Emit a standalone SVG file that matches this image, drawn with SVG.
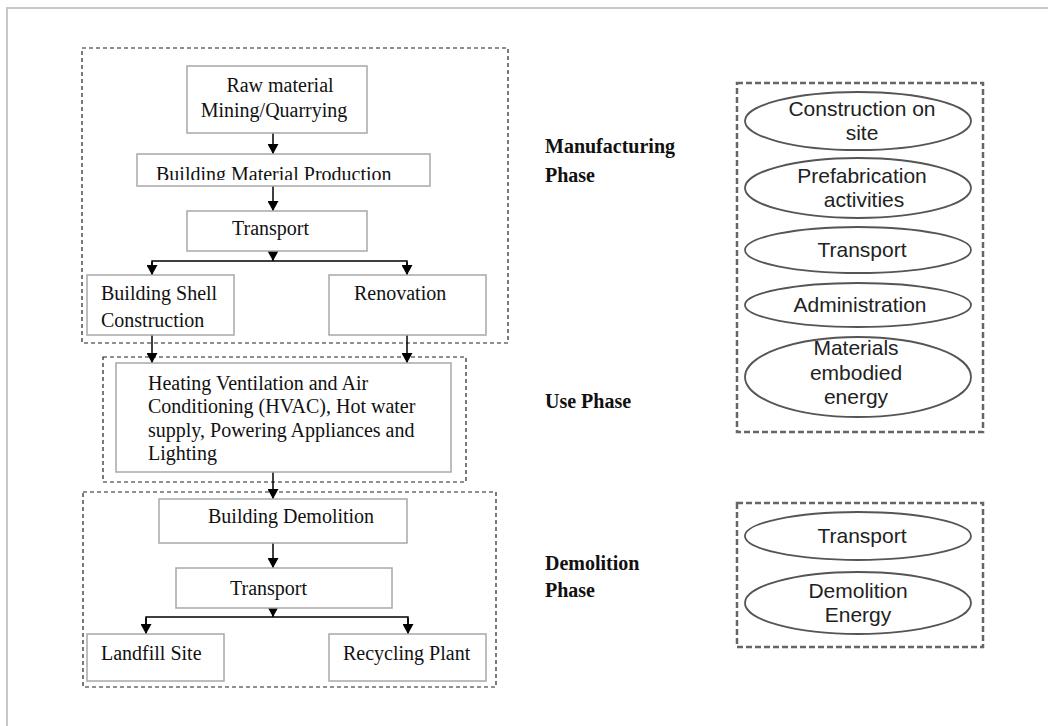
<svg xmlns="http://www.w3.org/2000/svg" width="1048" height="726" viewBox="0 0 1048 726">
<style>
.frame{fill:none;stroke:#c8c8c8;stroke-width:2}
.phase{fill:none;stroke:#222;stroke-width:1.2;stroke-dasharray:4 3}
.group{fill:none;stroke:#666;stroke-width:2.5;stroke-dasharray:6 3}
.box{fill:#fff;stroke:#a8a8a8;stroke-width:1.5}
.ell{fill:#fff;stroke:#555;stroke-width:1.8}
.t{font-family:"Liberation Serif","Times New Roman",serif;font-size:20px;fill:#111}
.b{font-family:"Liberation Serif","Times New Roman",serif;font-size:20px;font-weight:bold;fill:#111}
.s{font-family:"Liberation Sans",Arial,sans-serif;font-size:21px;fill:#222;text-anchor:middle}
.c{fill:none;stroke:#000;stroke-width:1.5}
</style>
<defs>
<marker id="ah" markerWidth="11" markerHeight="11" refX="10" refY="5.5" orient="auto" markerUnits="userSpaceOnUse">
<path d="M0,0 L10,5.5 L0,11 Z" fill="#000"/>
</marker>
<clipPath id="clipBMP"><rect x="137" y="154" width="293" height="26"/></clipPath>
</defs>
<rect width="1048" height="726" fill="#fff"/>
<path class="frame" d="M7,726 L7,8 L1048,8"/>

<g id="phase-boxes">
<rect class="phase" x="82" y="48" width="426" height="295"/>
<rect class="phase" x="103" y="357" width="363" height="125"/>
<rect class="phase" x="83" y="492" width="413" height="195"/>
</g>

<g id="connectors">
<line class="c" x1="273" y1="133" x2="273" y2="154" marker-end="url(#ah)"/>
<line class="c" x1="273" y1="186" x2="273" y2="211" marker-end="url(#ah)"/>
<line class="c" x1="273" y1="251" x2="273" y2="261" marker-end="url(#ah)"/>
<polyline class="c" points="152,275 152,261 407,261 407,275"/>
<line class="c" x1="152" y1="262" x2="152" y2="275" marker-end="url(#ah)"/>
<line class="c" x1="407" y1="262" x2="407" y2="275" marker-end="url(#ah)"/>
<line class="c" x1="152" y1="335" x2="152" y2="363" marker-end="url(#ah)"/>
<line class="c" x1="407" y1="335" x2="407" y2="363" marker-end="url(#ah)"/>
<line class="c" x1="273" y1="472" x2="273" y2="499" marker-end="url(#ah)"/>
<line class="c" x1="273" y1="543" x2="273" y2="568" marker-end="url(#ah)"/>
<line class="c" x1="273" y1="608" x2="273" y2="617" marker-end="url(#ah)"/>
<polyline class="c" points="146,634 146,617 408,617 408,634"/>
<line class="c" x1="146" y1="618" x2="146" y2="634" marker-end="url(#ah)"/>
<line class="c" x1="408" y1="618" x2="408" y2="634" marker-end="url(#ah)"/>
</g>

<g id="raw-material">
<rect class="box" x="187" y="66" width="180" height="67"/>
<text class="t" x="280" y="92" text-anchor="middle">Raw material</text>
<text class="t" x="274" y="117" text-anchor="middle">Mining/Quarrying</text>
</g>
<g id="building-material-production">
<rect class="box" x="137" y="154" width="293" height="32"/>
<text class="t" x="156" y="181" clip-path="url(#clipBMP)">Building Material Production</text>
</g>
<g id="transport-1">
<rect class="box" x="187" y="211" width="180" height="40"/>
<text class="t" x="232" y="235">Transport</text>
</g>
<g id="building-shell">
<rect class="box" x="87" y="275" width="147" height="60"/>
<text class="t" x="101" y="300">Building Shell</text>
<text class="t" x="101" y="327">Construction</text>
</g>
<g id="renovation">
<rect class="box" x="329" y="275" width="157" height="60"/>
<text class="t" x="354" y="300">Renovation</text>
</g>
<g id="hvac">
<rect class="box" x="116" y="363" width="335" height="109"/>
<text class="t" x="148" y="390">Heating Ventilation and Air</text>
<text class="t" x="148" y="413">Conditioning (HVAC), Hot water</text>
<text class="t" x="148" y="437">supply, Powering Appliances and</text>
<text class="t" x="148" y="460">Lighting</text>
</g>
<g id="building-demolition">
<rect class="box" x="159" y="499" width="248" height="44"/>
<text class="t" x="208" y="523">Building Demolition</text>
</g>
<g id="transport-2">
<rect class="box" x="176" y="568" width="216" height="40"/>
<text class="t" x="230" y="595">Transport</text>
</g>
<g id="landfill">
<rect class="box" x="87" y="634" width="137" height="47"/>
<text class="t" x="101" y="660">Landfill Site</text>
</g>
<g id="recycling">
<rect class="box" x="329" y="634" width="157" height="47"/>
<text class="t" x="343" y="660">Recycling Plant</text>
</g>

<g id="phase-labels">
<text class="b" x="545" y="153">Manufacturing</text>
<text class="b" x="545" y="182">Phase</text>
<text class="b" x="545" y="408">Use Phase</text>
<text class="b" x="545" y="570">Demolition</text>
<text class="b" x="545" y="597">Phase</text>
</g>

<g id="manufacturing-activities">
<rect class="group" x="737" y="83" width="246" height="349"/>
<g id="construction-on-site">
<ellipse class="ell" cx="858" cy="121" rx="113" ry="29"/>
<text class="s" x="862" y="116">Construction on</text>
<text class="s" x="862" y="140">site</text>
</g>
<g id="prefabrication">
<ellipse class="ell" cx="858" cy="188" rx="113" ry="30"/>
<text class="s" x="862" y="183">Prefabrication</text>
<text class="s" x="864" y="207">activities</text>
</g>
<g id="transport-3">
<ellipse class="ell" cx="858" cy="250" rx="113" ry="23"/>
<text class="s" x="862" y="257">Transport</text>
</g>
<g id="administration">
<ellipse class="ell" cx="858" cy="305" rx="113" ry="22"/>
<text class="s" x="860" y="312">Administration</text>
</g>
<g id="materials-embodied">
<ellipse class="ell" cx="858" cy="377" rx="113" ry="40"/>
<text class="s" x="856" y="355">Materials</text>
<text class="s" x="856" y="380">embodied</text>
<text class="s" x="856" y="404">energy</text>
</g>
</g>

<g id="demolition-activities">
<rect class="group" x="737" y="503" width="246" height="144"/>
<g id="transport-4">
<ellipse class="ell" cx="858" cy="536" rx="113" ry="24"/>
<text class="s" x="862" y="543">Transport</text>
</g>
<g id="demolition-energy">
<ellipse class="ell" cx="858" cy="603" rx="113" ry="31"/>
<text class="s" x="858" y="598">Demolition</text>
<text class="s" x="858" y="622">Energy</text>
</g>
</g>
</svg>
